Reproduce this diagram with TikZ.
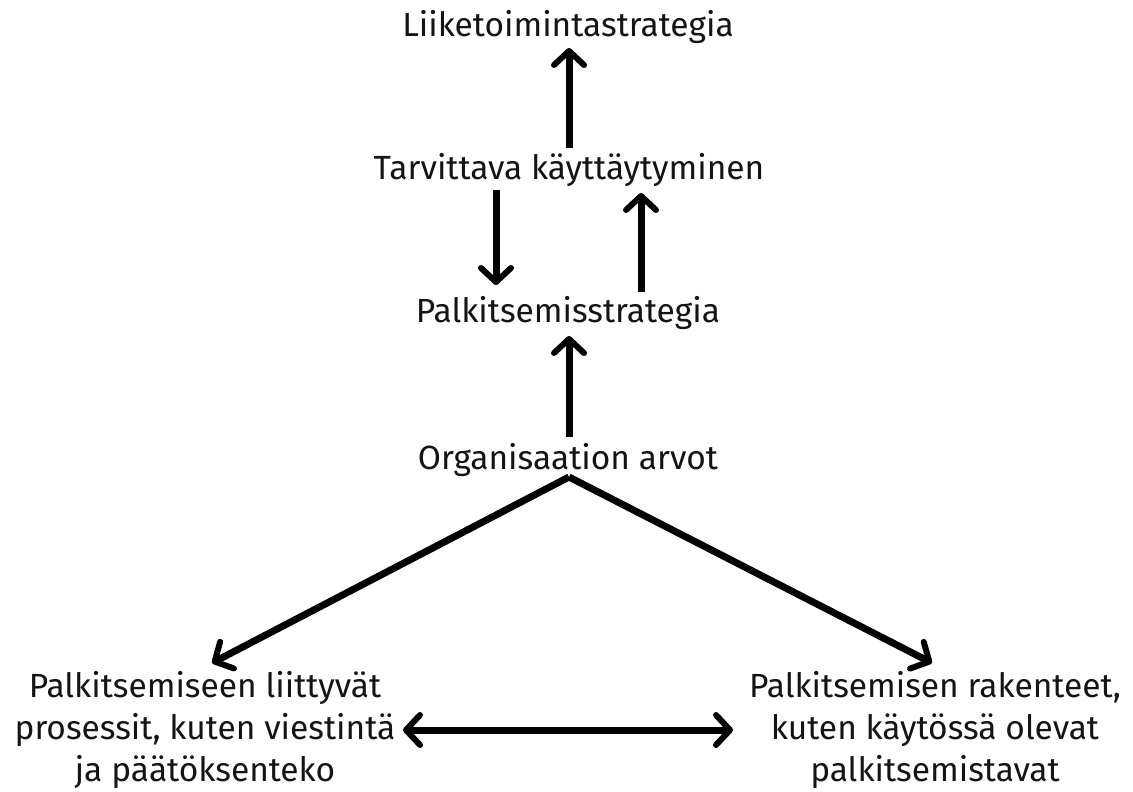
\documentclass[tikz,border=0pt]{standalone}
\usepackage{fontspec}
\setmainfont{Fira Sans}
\usetikzlibrary{arrows.meta}
\definecolor{ink}{HTML}{141414}
\begin{document}
\begin{tikzpicture}[x=1pt,y=-1pt,
  lbl/.style={font=\fontsize{33.5}{42}\selectfont, text=ink, inner sep=0pt, align=center},
  conn/.style={line width=7pt, draw=black,
    -{Straight Barb[length=14pt,width=30pt,line width=6pt,line cap=round,round]}},
  biconn/.style={line width=7pt, draw=black,
    {Straight Barb[length=14pt,width=30pt,line width=6pt,line cap=round,round]}-{Straight Barb[length=14pt,width=30pt,line width=6pt,line cap=round,round]}}]
\useasboundingbox (0,0) rectangle (1133,792);
\fill[white] (0,0) rectangle (1133,792);

% labels
\node[lbl] (liike) at (568,27) {Liiketoimintastrategia};
\node[lbl] (tarv)  at (569,170) {Tarvittava käyttäytyminen};
\node[lbl] (palk)  at (568,313) {Palkitsemisstrategia};
\node[lbl] (org)   at (568,460) {Organisaation arvot};
\node[lbl] (proc)  at (205,730) {Palkitsemiseen liittyvät\\prosessit, kuten viestintä\\ja päätöksenteko};
\node[lbl] (rak)   at (935,730) {Palkitsemisen rakenteet,\\kuten käytössä olevat\\palkitsemistavat};

% anchor points of the connectors
\coordinate (a1s) at (569,148);  \coordinate (a1e) at (569,48);
\coordinate (a2s) at (496,190);  \coordinate (a2e) at (496,285);
\coordinate (a3s) at (641,292);  \coordinate (a3e) at (641,193);
\coordinate (a4s) at (569,437);  \coordinate (a4e) at (569,336);
\coordinate (apex) at (569,477);
\coordinate (lt) at (212,663);
\coordinate (rt) at (932,663);
\coordinate (bl) at (403,730);
\coordinate (br) at (733,730);

% connectors
\draw[conn] (a1s) -- (a1e);
\draw[conn] (a2s) -- (a2e);
\draw[conn] (a3s) -- (a3e);
\draw[conn] (a4s) -- (a4e);
\draw[conn] (apex) -- (lt);
\draw[conn] (apex) -- (rt);
\draw[biconn] (bl) -- (br);
\end{tikzpicture}
\end{document}
